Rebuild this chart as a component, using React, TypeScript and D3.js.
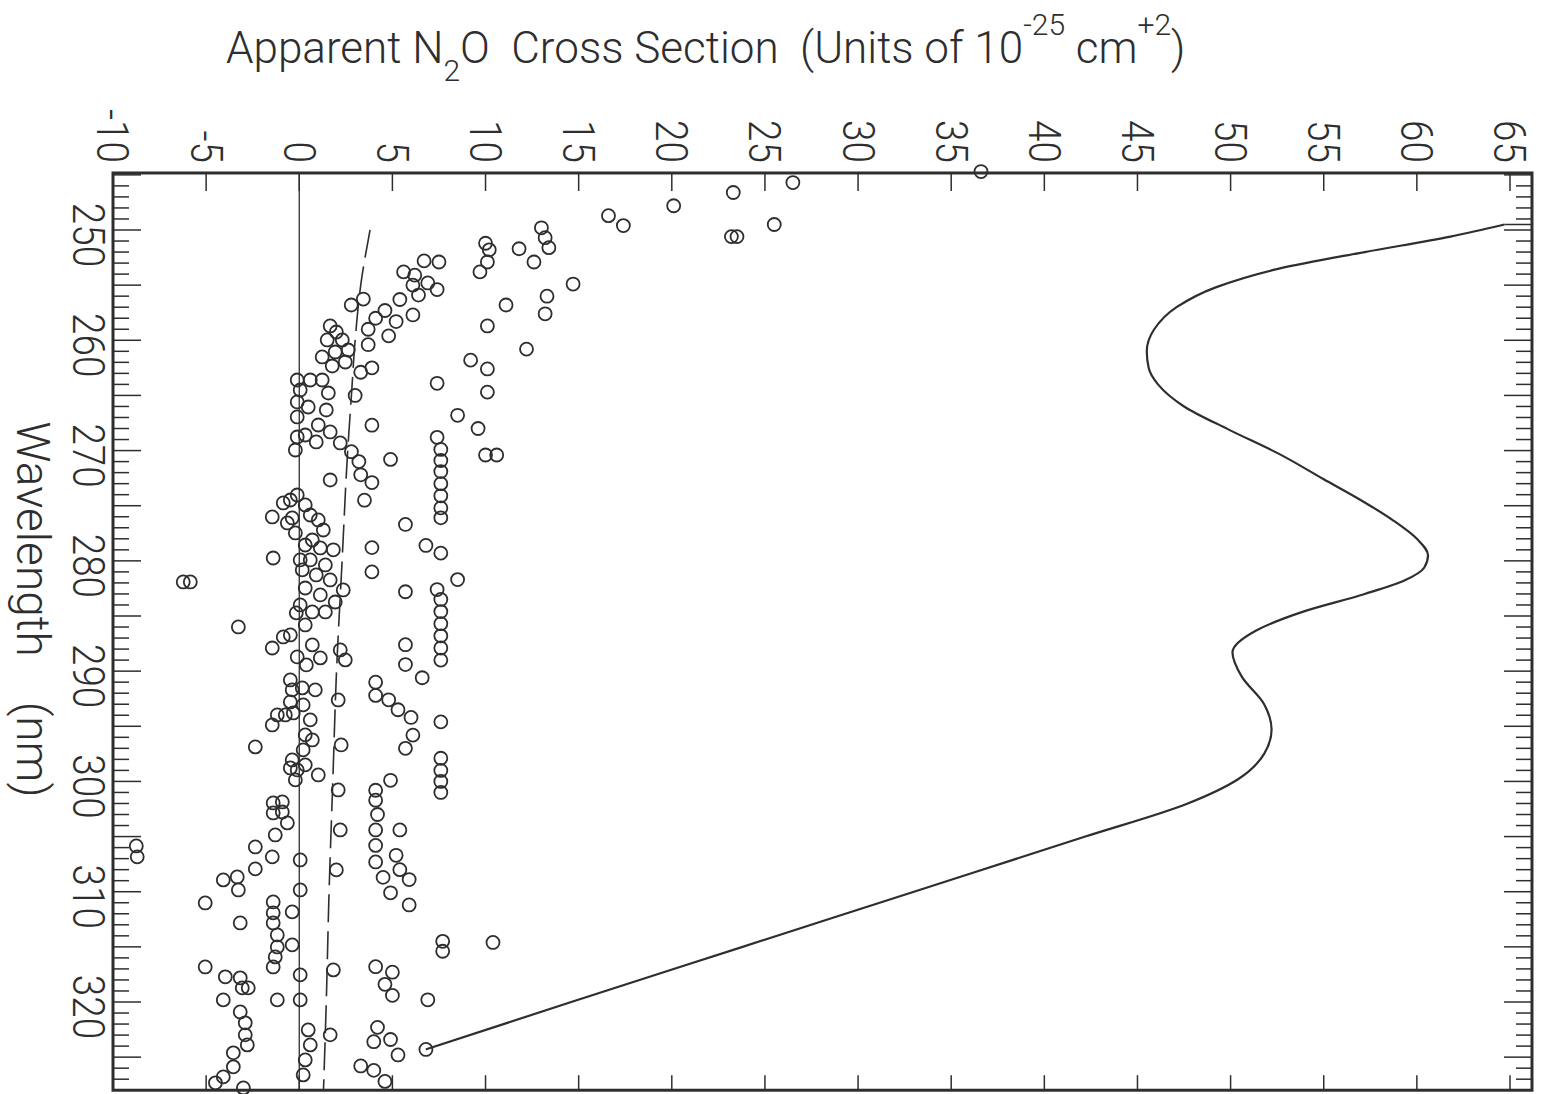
import React from "react";
import * as d3 from "d3";

// cross section tick values (top axis) and wavelength labels (left axis)
const sigmaTicks = d3.range(-10, 66, 5);
const waveLabels = [250, 260, 270, 280, 290, 300, 310, 320];
const waveMinor = d3.range(245, 328, 1);

// fitted cross section curve [wavelength nm, sigma]
const solidCurve = [
  [249.5, 64.7], [250.6, 61.8], [252, 57.2], [253.5, 52.6], [255.2, 49.2], [257, 47.1],
  [259, 45.9], [261, 45.5], [262.5, 45.6], [264, 46.1], [266, 47.5], [268.1, 49.9],
  [270.3, 52.6], [272.6, 55.0], [274.5, 57.0], [276.3, 58.7], [278, 60.0], [279.5, 60.6],
  [280.6, 60.4], [281.8, 59.3], [283, 57.2], [284.6, 53.9], [286.3, 51.4], [288.3, 50.1],
  [290.5, 50.6], [293, 51.8], [295.3, 52.2], [297.5, 51.8], [299.8, 50.4], [302, 47.7],
  [305, 42.2], [310, 33.0], [315, 23.8], [320, 14.6], [324.3, 6.8],
];

// dashed reference line
const dashedCurve = [
  [250, 3.8], [255, 3.3], [260, 3.0], [265, 2.8], [270, 2.6], [280, 2.3], [290, 2.0],
  [300, 1.8], [310, 1.6], [320, 1.45], [328, 1.3],
];

// measured points [wavelength nm, sigma]
const upperPoints = [
  [244.7, 36.6], [245.7, 26.5], [246.6, 23.3], [247.8, 20.1], [249.5, 25.5], [250.6, 23.2],
  [250.6, 23.5], [248.7, 16.6], [249.6, 17.4], [249.8, 13.0], [250.7, 13.2], [251.6, 13.4],
  [252.9, 12.6], [251.7, 11.8], [251.2, 10.0], [251.8, 10.2], [252.9, 10.1], [253.8, 9.7],
  [254.9, 14.7], [256, 13.3], [257.6, 13.2], [256.8, 11.1], [258.7, 10.1], [260.8, 12.2],
  [261.8, 9.2], [262.6, 10.1], [264.7, 10.1], [266.8, 8.5], [268, 9.6], [270.4, 10.6],
  [270.4, 10.0],
];

const lowPoints = [
  [258.7, 1.66], [259.25, 1.99], [259.97, 1.5], [259.97, 2.31], [260.88, 2.63], [261.06, 1.93],
  [261.51, 1.23], [261.97, 2.47], [262.33, 1.77], [263.6, 0.59], [263.6, 1.23], [263.6, -0.11],
  [264.51, 0.05], [264.78, 1.56], [265.59, -0.11], [266.05, 0.48], [266.32, 1.45], [266.95, -0.11],
  [267.68, 1.02], [268.31, 1.66], [268.59, 0.32], [268.77, -0.11], [269.22, 0.91], [269.31, 2.2],
  [269.95, -0.21], [272.67, 1.66],
  [274.03, -0.11], [274.48, -0.48], [274.75, -0.86], [274.93, 0.32], [275.84, 0.59], [276.02, -1.45],
  [276.11, -0.38], [276.29, 1.02], [276.56, -0.64], [277.2, 1.29], [277.47, -0.21], [278.11, 0.7],
  [278.56, 0.32], [278.83, 1.13], [279.0, 1.83], [279.74, -1.4], [279.92, 0.05], [279.92, 0.59],
  [280.37, 1.4], [280.82, 0.16], [281.28, 0.91], [281.73, 1.66], [282.64, 2.36], [282.46, 0.32],
  [283.09, 1.13], [283.73, 1.93], [284.0, 0.05], [284.63, 0.7], [284.72, -0.16], [284.63, 1.4],
  [285.81, 0.32], [286.9, -0.86], [286.72, -0.48], [287.9, -1.45], [287.62, 0.7], [288.71, -0.11],
  [288.8, 1.13], [289.44, 0.38], [290.8, -0.48], [291.52, 0.16], [291.7, -0.38], [291.7, 0.86],
  [292.79, -0.48], [293.06, 0.21], [293.79, -0.32], [293.97, -1.18], [293.97, -0.75], [294.42, 0.59],
  [294.88, -1.45], [295.78, 0.32], [296.24, 0.7], [296.87, -2.36], [297.14, 0.21], [298.05, -0.38],
  [298.5, 0.32], [298.78, -0.48], [298.96, -0.11], [299.41, 1.02], [299.86, -0.21],
  [301.95, -1.4], [301.86, -0.91], [302.86, -1.4], [302.77, -0.91], [303.76, -0.64], [304.85, -1.29],
  [305.94, -2.36], [306.84, -1.45], [307.93, -2.36], [307.12, 0.05], [309.84, 0.05],
  [308.93, -4.08], [308.66, -3.33], [309.84, -3.27], [311.02, -5.05], [312.83, -3.17],
  [310.93, -1.4], [311.92, -1.4], [312.83, -1.4], [313.92, -1.18], [315.01, -1.18], [315.91, -1.29],
  [316.82, -1.4], [311.83, -0.38], [314.82, -0.38], [316.82, -5.05], [317.72, -3.97], [317.81, -3.17],
  [318.72, -3.06], [318.72, -2.74], [319.81, -4.08], [319.81, -1.18], [320.9, -3.17], [321.89, -2.9],
  [322.98, -2.9], [323.89, -2.79], [324.61, -3.54], [325.88, -3.54], [326.79, -4.08], [327.33, -4.5],
  [327.79, -3.0], [317.54, 0.05], [319.81, 0.05], [322.53, 0.48], [323.89, 0.59], [325.25, 0.32],
  [326.61, 0.21],
];

// isolated negative outliers
const outlierPoints = [
  [281.91, -6.23], [281.91, -5.85], [285.99, -3.27], [305.85, -8.75], [306.84, -8.7],
];

// points sitting along the dashed line
const dashedPoints = [
  [288.08, 2.2], [288.98, 2.47], [292.61, 2.09], [296.69, 2.25], [300.77, 2.09], [304.4, 2.2],
  [308.02, 1.99], [317.09, 1.83], [322.98, 1.66], [256.26, 3.44], [256.8, 2.79],
];

const midPoints = [
  [253.8, 5.6], [252.8, 6.7], [252.9, 7.5], [254.1, 6.2], [255, 6.1], [254.8, 6.9],
  [255.4, 7.4], [255.9, 6.4], [256.3, 5.4], [257.3, 4.6], [258, 4.1], [258.3, 5.2],
  [257.7, 6.1], [259, 3.7], [259.6, 4.8], [260.4, 3.7], [262.5, 3.9], [262.9, 3.3],
  [265, 3.0], [267.7, 3.9], [270.1, 2.8], [271, 3.2], [270.8, 4.9], [272.2, 3.3],
  [272.9, 3.9], [274.5, 3.5], [276.7, 5.7], [278.8, 3.9], [281, 3.9], [282.8, 5.7],
  [287.6, 5.7], [289.4, 5.7], [290.6, 6.6], [291, 4.1], [292.2, 4.1], [292.6, 4.8],
  [293.5, 5.3], [294.2, 6.0], [297, 5.7], [295.8, 6.1], [299.9, 4.9], [300.8, 4.1],
  [301.7, 4.1], [303, 4.2], [304.4, 4.1], [305.8, 4.1], [304.4, 5.4], [306.7, 5.2],
  [308, 5.4], [308.9, 5.9], [311.2, 5.9], [307.3, 4.1], [308.7, 4.5], [310.1, 4.9],
  [316.8, 4.1], [317.3, 5.0], [318.4, 4.6], [319.4, 5.0], [322.3, 4.2], [323.6, 4.0],
  [323.4, 4.9], [324.8, 5.3], [326.2, 4.0], [327.2, 4.6], [325.8, 3.3],
];

const highPoints = [
  [263.9, 7.4], [268.8, 7.4], [269.9, 7.6], [270.9, 7.6], [271.9, 7.6], [273, 7.6],
  [274.1, 7.6], [275.2, 7.6], [276.1, 7.6], [278.6, 6.8], [279.3, 7.6], [281.7, 8.5],
  [282.6, 7.4], [283.5, 7.6], [284.6, 7.6], [285.7, 7.6], [286.8, 7.6], [287.9, 7.6],
  [289, 7.6], [294.6, 7.6], [297.9, 7.6], [299, 7.6], [300, 7.6], [301, 7.6],
  [314.5, 7.7], [315.4, 7.7], [314.6, 10.4], [319.8, 6.9], [324.3, 6.8],
];

const INK = "#2e2e2e";
const FONT = "Roboto, 'DejaVu Sans', sans-serif";

export default function App() {
  const x = d3.scaleLinear().domain([-10, 65]).range([113, 1510]);
  const y = d3.scaleLinear().domain([250, 320]).range([230, 1002]);
  const left = x(-10);
  const right = x(66.18);
  const top = y(244.83);
  const bottom = y(328);

  const line = d3
    .line<number[]>()
    .x((d) => x(d[1]))
    .y((d) => y(d[0]))
    .curve(d3.curveMonotoneY);

  const allPoints = [
    ...upperPoints,
    ...lowPoints,
    ...outlierPoints,
    ...dashedPoints,
    ...midPoints,
    ...highPoints,
  ];

  return (
    <svg
      width={1549}
      height={1094}
      style={{ position: "absolute", left: 0, top: 0, background: "#fff" }}
      fontFamily={FONT}
    >
      {/* title */}
      <text
        transform="translate(226,63)"
        fontSize={44}
        fontWeight={300}
        fill={INK}
        style={{ whiteSpace: "pre" }}
      >
        <tspan>Apparent N</tspan>
        <tspan fontSize={30} dy={18}>2</tspan>
        <tspan dy={-18}>O  Cross Section  (Units of 10</tspan>
        <tspan fontSize={30} dy={-28}>-25</tspan>
        <tspan dy={28}> cm</tspan>
        <tspan fontSize={30} dy={-28}>+2</tspan>
        <tspan dy={28}>)</tspan>
      </text>

      {/* frame */}
      <rect
        x={left}
        y={top}
        width={right - left}
        height={bottom - top}
        fill="none"
        stroke={INK}
        strokeWidth={3}
      />

      {/* top and bottom ticks */}
      {sigmaTicks
        .filter((v) => v > -10)
        .map((v) => (
          <g key={"st" + v}>
            <line x1={x(v)} x2={x(v)} y1={top} y2={top + 18} stroke={INK} strokeWidth={1.5} />
            <line x1={x(v)} x2={x(v)} y1={bottom} y2={bottom - 15} stroke={INK} strokeWidth={1.5} />
          </g>
        ))}
      {sigmaTicks.map((v) => (
        <text
          key={"sl" + v}
          transform={`translate(${x(v)},163) rotate(90) scale(0.86,1)`}
          textAnchor="end"
          dominantBaseline="central"
          fontSize={45}
          fontWeight={300}
          fill={INK}
        >
          {v < 0 ? "-" + Math.abs(v) : v}
        </text>
      ))}

      {/* wavelength ticks, both sides */}
      {waveMinor.map((w) => {
        const len = w % 5 === 0 ? 28 : 16;
        return (
          <g key={"wt" + w}>
            <line x1={left} x2={left + len} y1={y(w)} y2={y(w)} stroke={INK} strokeWidth={1.5} />
            <line x1={right} x2={right - len} y1={y(w)} y2={y(w)} stroke={INK} strokeWidth={1.5} />
          </g>
        );
      })}
      {waveLabels.map((w) => (
        <text
          key={"wl" + w}
          transform={`translate(89,${y(w) + 5}) rotate(90) scale(0.86,1)`}
          textAnchor="middle"
          dominantBaseline="central"
          fontSize={45}
          fontWeight={300}
          fill={INK}
        >
          {w}
        </text>
      ))}
      <text
        transform={`translate(33,${y(284.4)}) rotate(90)`}
        textAnchor="middle"
        dominantBaseline="central"
        fontSize={46}
        fontWeight={300}
        fill={INK}
        style={{ whiteSpace: "pre" }}
      >
        Wavelength    (nm)
      </text>

      {/* zero line */}
      <line x1={x(0)} x2={x(0)} y1={top} y2={bottom} stroke={INK} strokeWidth={1.3} />

      {/* dashed line */}
      <path
        d={line(dashedCurve) ?? ""}
        fill="none"
        stroke={INK}
        strokeWidth={1.6}
        strokeDasharray="28 9"
      />

      {/* solid curve */}
      <path d={line(solidCurve) ?? ""} fill="none" stroke={INK} strokeWidth={2.2} />
      <line
        x1={x(solidCurve[0][1])}
        x2={right}
        y1={y(solidCurve[0][0])}
        y2={y(solidCurve[0][0])}
        stroke={INK}
        strokeWidth={1.5}
      />

      {/* points */}
      {allPoints.map((p, i) => (
        <circle
          key={"p" + i}
          cx={x(p[1])}
          cy={y(p[0])}
          r={6.5}
          fill="none"
          stroke={INK}
          strokeWidth={1.8}
        />
      ))}
    </svg>
  );
}
